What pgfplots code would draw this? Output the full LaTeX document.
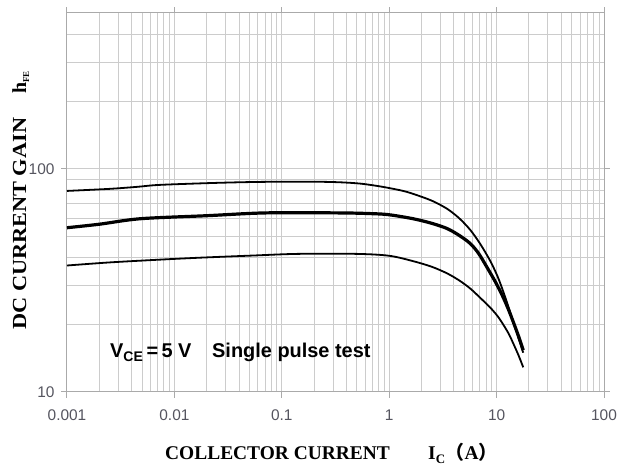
\documentclass[border=0pt]{standalone}
\usepackage{fontspec}
\setmainfont{Liberation Sans}
\newfontfamily\serifb{Liberation Serif}
\newfontfamily\cjk{Noto Sans CJK SC}
\usepackage{pgfplots}
\pgfplotsset{compat=1.18}
\definecolor{gridc}{RGB}{204,204,204}
\definecolor{axisc}{RGB}{170,170,170}
\definecolor{tickc}{RGB}{85,85,95}
\begin{document}
\begin{tikzpicture}[x=1bp,y=1bp]
\useasboundingbox (0,0) rectangle (620,465);
\begin{loglogaxis}[
  at={(67bp,73bp)}, anchor=south west,
  scale only axis, width=537bp, height=379bp,
  xmin=0.001, xmax=100, ymin=10, ymax=500,
  xtick={0.001,0.01,0.1,1,10,100},
  xticklabels={0.001,0.01,0.1,1,10,100},
  ytick={10,100}, yticklabels={10,100},
  minor xtick={0.002,0.003,0.004,0.005,0.006,0.007,0.008,0.009,
               0.02,0.03,0.04,0.05,0.06,0.07,0.08,0.09,
               0.2,0.3,0.4,0.5,0.6,0.7,0.8,0.9,
               2,3,4,5,6,7,8,9,20,30,40,50,60,70,80,90},
  minor ytick={20,30,40,50,60,70,80,90,200,300,400},
  grid=both,
  major grid style={gridc, line width=1bp},
  minor grid style={gridc, line width=1bp},
  axis line style={axisc, line width=1bp},
  tick align=outside, major tick length=6bp, minor tick length=0pt,
  every tick/.style={axisc, line width=1bp},
  /pgf/number format/assume math mode=true,
  every tick label/.append style={font=\fontsize{15.5}{18}\selectfont, text=tickc},
  xticklabel style={yshift=-8bp},
  yticklabel style={xshift=-3bp},
  clip=true,
]
\addplot[black, line width=1.8bp, smooth] coordinates {
(0.001,79.7) (0.0025,81.4) (0.0045,83.1) (0.0073,84.8) (0.025,86.6)
(0.07,87.5) (0.25,87.5) (0.5,86.2) (0.82,83.5) (1.3,80.0) (1.67,77.3)
(2.5,72.0) (3.47,66.2) (4.5,60.0) (5.68,53.3) (7.0,46.3) (8.72,38.7) (10.2,33.0) (11.5,28.3) (13.0,23.8) (14.3,20.6)
(16.0,17.4) (17.7,15.0)
};
\addplot[black, line width=3.2bp, smooth] coordinates {
(0.001,54.5) (0.002,56.5) (0.0048,59.8) (0.02,61.7) (0.07,63.5)
(0.35,63.5) (0.7,63.0) (1.0,62.3) (1.67,59.8) (2.5,57.0) (3.47,54.0) (4.5,50.3) (5.68,46.3)
(6.8,41.8) (8.17,36.1) (9.8,31.0) (11.5,26.6) (13.0,23.2) (14.3,20.6) (16.0,17.8) (17.7,15.4)
};
\addplot[black, line width=1.8bp, smooth] coordinates {
(0.001,36.9) (0.0025,38.1) (0.0073,39.2) (0.0173,40.0) (0.054,40.9)
(0.14,41.6) (0.5,41.6) (1.0,40.8) (1.67,38.6) (2.5,36.4) (3.47,34.0) (4.5,31.6)
(5.68,29.1) (7.0,26.5) (8.72,23.9) (10.2,21.9) (11.5,20.1) (13.0,18.2) (14.3,16.5) (16.0,14.6) (17.7,12.9)
};
\end{loglogaxis}
\node[anchor=base west, inner sep=0pt, font=\fontsize{20}{22}\selectfont\bfseries] at (110,107) {V\textsubscript{\fontsize{14}{15}\selectfont CE}\,=\,5 V};
\node[anchor=base west, inner sep=0pt, font=\fontsize{20}{22}\selectfont\bfseries] at (212,107) {Single pulse test};
\node[anchor=base west, inner sep=0pt, font=\serifb\fontsize{19.5}{22}\selectfont\bfseries] at (165,5) {COLLECTOR CURRENT};
\node[anchor=base west, inner sep=0pt, font=\serifb\fontsize{19.5}{22}\selectfont\bfseries] at (428,5) {I\textsubscript{\fontsize{13}{14}\selectfont C}{\cjk\fontsize{19}{20}\selectfont （}A{\cjk\fontsize{19}{20}\selectfont ）}};
\node[rotate=90, anchor=base west, inner sep=0pt, font=\serifb\fontsize{20}{24}\selectfont\bfseries] at (26,135) {\scalebox{1.12}[1]{DC CURRENT GAIN}\hspace{24bp}h\textsubscript{\fontsize{9}{10}\selectfont FE}};
\end{tikzpicture}
\end{document}
